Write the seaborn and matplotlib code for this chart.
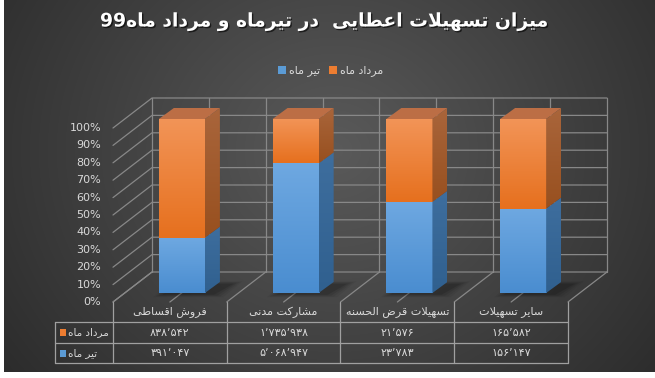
import re
import numpy as np
import pandas as pd
import matplotlib.pyplot as plt
import matplotlib.patheffects as pe
import seaborn as sns
from matplotlib.patches import Polygon, Rectangle, Patch
from matplotlib.colors import LinearSegmentedColormap

# ---- data ----
title = "میزان تسهیلات اعطایی  در تیرماه و مرداد ماه99"
categories = ["فروش اقساطی", "مشارکت مدنی", "تسهیلات قرض الحسنه", "سایر تسهیلات"]
series_names = ["تیر ماه", "مرداد ماه"]
tir = [391047, 5068947, 23783, 156147]
mordad = [838542, 1735938, 21576, 165582]
y_ticks = [0, 10, 20, 30, 40, 50, 60, 70, 80, 90, 100]

# ---- colours ----
blue = "#5B9BD5"
orange = "#ED7D31"
txt_col = "#d9d9d9"
grid_col = "#888888"
table_col = "#a0a0a0"

# ---- persian shaping (matplotlib has no complex text layout) ----
FORMS = {
    'ا': ('\ufe8d', '\ufe8e', None, None),
    'د': ('\ufea9', '\ufeaa', None, None),
    'ر': ('\ufead', '\ufeae', None, None),
    'ز': ('\ufeaf', '\ufeb0', None, None),
    'و': ('\ufeed', '\ufeee', None, None),
    'ت': ('\ufe95', '\ufe96', '\ufe97', '\ufe98'),
    'ح': ('\ufea1', '\ufea2', '\ufea3', '\ufea4'),
    'س': ('\ufeb1', '\ufeb2', '\ufeb3', '\ufeb4'),
    'ش': ('\ufeb5', '\ufeb6', '\ufeb7', '\ufeb8'),
    'ض': ('\ufebd', '\ufebe', '\ufebf', '\ufec0'),
    'ط': ('\ufec1', '\ufec2', '\ufec3', '\ufec4'),
    'ع': ('\ufec9', '\ufeca', '\ufecb', '\ufecc'),
    'ف': ('\ufed1', '\ufed2', '\ufed3', '\ufed4'),
    'ق': ('\ufed5', '\ufed6', '\ufed7', '\ufed8'),
    'ل': ('\ufedd', '\ufede', '\ufedf', '\ufee0'),
    'م': ('\ufee1', '\ufee2', '\ufee3', '\ufee4'),
    'ن': ('\ufee5', '\ufee6', '\ufee7', '\ufee8'),
    'ه': ('\ufee9', '\ufeea', '\ufeeb', '\ufeec'),
    'ک': ('\ufb8e', '\ufb8f', '\ufb90', '\ufb91'),
    'ی': ('\ufbfc', '\ufbfd', '\ufbfe', '\ufbff'),
}


def dual(c):
    return c in FORMS and FORMS[c][2] is not None


def rtl(text):
    out = []
    i = 0
    n = len(text)
    while i < n:
        c = text[i]
        if c not in FORMS:
            out.append(c)
            i += 1
            continue
        joins_prev = i > 0 and dual(text[i - 1])
        if c == 'ل' and i + 1 < n and text[i + 1] == 'ا':
            out.append('\ufefc' if joins_prev else '\ufefb')
            i += 2
            continue
        joins_next = dual(c) and i + 1 < n and text[i + 1] in FORMS
        iso, fin, ini, med = FORMS[c]
        if joins_prev and joins_next:
            out.append(med)
        elif joins_prev:
            out.append(fin)
        elif joins_next:
            out.append(ini)
        else:
            out.append(iso)
        i += 1
    vis = ''.join(reversed(out))
    return re.sub(r'[0-9]+', lambda m: m.group(0)[::-1], vis)


def fa_num(v):
    s = f"{v:,}".replace(',', '\u066c')
    return s.translate(str.maketrans('0123456789', '۰۱۲۳۴۵۶۷۸۹'))


# ---- layout of the pseudo 3d box (pixel -> data) ----
X0, PX_CAT, Y0, PX_PCT = 125, 113.75, 293, 1.74


def px(p):
    return -0.5 + (p - X0) / PX_CAT


def py(p):
    return (Y0 - p) / PX_PCT


fx, fy = -12 / PX_CAT, -9 / PX_PCT      # front plane offset
bx, by = 27 / PX_CAT, 21 / PX_PCT       # back wall offset
ddx, ddy = 15 / PX_CAT, 11 / PX_PCT     # bar depth

sns.set_theme(style="white")
plt.rcParams['font.family'] = ['DejaVu Sans']

fig = plt.figure(figsize=(6.55, 3.78), dpi=100, facecolor="white")

# background radial gradient
bg = fig.add_axes([0, 0, 1, 1])
bg.axis("off")
yy, xx = np.mgrid[0:372, 0:651]
r = np.sqrt((xx - 330) ** 2 + ((yy - 150) / 0.9) ** 2) / 430
r = np.clip(r, 0, 1)
c_in = np.array([90, 90, 90]) / 255
c_out = np.array([42, 42, 42]) / 255
img = c_in[None, None, :] * (1 - r[..., None]) + c_out[None, None, :] * r[..., None]
bg.imshow(img, extent=(4, 655, 372, 0), aspect="auto", interpolation="bilinear")
bg.set_xlim(0, 655)
bg.set_ylim(378, 0)

ax = fig.add_axes([0, 0, 1, 1])
ax.patch.set_alpha(0)

# ---- data frame and seaborn bars (front faces) ----
tot = np.array(tir) + np.array(mordad)
df = pd.DataFrame({
    "cat": categories,
    "tir_pct": np.array(tir) / tot * 100,
    "total": np.full(len(categories), 100.0),
})

sns.barplot(data=df, x="cat", y="total", order=categories, color=orange,
            width=0.405, saturation=1, errorbar=None, ax=ax)
sns.barplot(data=df, x="cat", y="tir_pct", order=categories, color=blue,
            width=0.405, saturation=1, errorbar=None, ax=ax)
ax.set_autoscale_on(False)

bars = list(ax.patches)
orange_bars, blue_bars = bars[:4], bars[4:8]


def grad_fill(clip, top, bottom, extent, z):
    cmap = LinearSegmentedColormap.from_list("g", [bottom, top])
    grad = np.linspace(0, 1, 64).reshape(-1, 1)
    im = ax.imshow(grad, cmap=cmap, extent=extent, origin="lower",
                   aspect="auto", interpolation="bilinear", zorder=z)
    im.set_clip_path(clip)


# walls and floor
for t in y_ticks:
    ax.plot([-0.5 + fx, -0.5 + bx, 3.5 + bx], [t + fy, t + by, t + by],
            color=grid_col, lw=0.9, zorder=1)
for k in range(9):
    xb = -0.5 + k * 0.5
    ax.plot([xb + bx, xb + bx], [by, 100 + by], color=grid_col, lw=0.9, zorder=1)
    ax.plot([xb + fx, xb + bx], [fy, by], color=grid_col, lw=0.9, zorder=1)

for i, (ob, bb) in enumerate(zip(orange_bars, blue_bars)):
    x0 = ob.get_x()
    x1 = x0 + ob.get_width()
    b = bb.get_height()
    z = 4 + i * 0.1

    # soft shadow on floor
    for s, a in [(0.08, 0.05), (0.055, 0.07), (0.03, 0.09), (0.0, 0.12)]:
        sh = Polygon([(x0 + 0.03 - s, -1.0 - s * 18), (x1 + 0.08 + s, -1.0 - s * 18),
                      (x1 + ddx + 0.12 + s, ddy - 1 + s * 18), (x0 + ddx + 0.05 - s, ddy - 1 + s * 18)],
                     closed=True, facecolor="black", edgecolor="none", alpha=a, zorder=2)
        ax.add_patch(sh)

    for patch in (ob, bb):
        patch.set_facecolor("none")
        patch.set_edgecolor("none")
    ob.set_zorder(z)
    bb.set_zorder(z + 0.01)

    # front faces
    grad_fill(bb, "#6EA8E1", "#4A8DD0", (x0, x1, 0, b), z + 0.01)
    grad_fill(ob, "#F29457", "#E6701E", (x0, x1, b, 100), z)

    # side faces
    for (y0, y1, ct, cb) in [(0, b, "#3E6E9E", "#30608F"), (b, 100, "#A9653B", "#98501F")]:
        side = Polygon([(x1, y0), (x1 + ddx, y0 + ddy), (x1 + ddx, y1 + ddy), (x1, y1)],
                       closed=True, facecolor="none", edgecolor="none", zorder=z)
        ax.add_patch(side)
        grad_fill(side, ct, cb, (x1, x1 + ddx, y0, y1 + ddy), z + 0.02)

    # top face
    ax.add_patch(Polygon([(x0, 100), (x1, 100), (x1 + ddx, 100 + ddy), (x0 + ddx, 100 + ddy)],
                         closed=True, facecolor="#BC6E45", edgecolor="none", zorder=z + 0.03))

# y tick labels
for t in y_ticks:
    ax.text(px(101), t + fy, f"{t}%", ha="right", va="center", color=txt_col, fontsize=8)

# data table
col_edges = [k - 0.5 + fx for k in range(5)]
for xe in col_edges:
    ax.plot([xe, xe], [fy, py(363)], color=table_col, lw=0.9, zorder=6)
ax.plot([px(55), px(55)], [py(322), py(363)], color=table_col, lw=0.9, zorder=6)
for yl in (322, 343, 363):
    ax.plot([px(55), col_edges[-1]], [py(yl), py(yl)], color=table_col, lw=0.9, zorder=6)

for k, cat in enumerate(categories):
    xc = k + fx
    ax.text(xc, py(312), rtl(cat), ha="center", va="center", color=txt_col, fontsize=8)
    ax.text(xc, py(332.5), fa_num(mordad[k]), ha="center", va="center", color=txt_col, fontsize=8)
    ax.text(xc, py(353.5), fa_num(tir[k]), ha="center", va="center", color=txt_col, fontsize=8)

for name, col, yc in [(series_names[1], orange, 332.5), (series_names[0], blue, 353.5)]:
    ax.add_patch(Rectangle((px(60), py(yc + 3.5)), 6.5 / PX_CAT, 7 / PX_PCT,
                           facecolor=col, edgecolor="none", zorder=6))
    ax.text(px(68), py(yc), rtl(name), ha="left", va="center", color=txt_col, fontsize=7.5)

ax.set_xlim(px(0), px(655))
ax.set_ylim(py(378), py(0))
ax.axis("off")

# legend
handles = [Patch(facecolor=blue, edgecolor="none"), Patch(facecolor=orange, edgecolor="none")]
leg = fig.legend(handles, [rtl(series_names[0]), rtl(series_names[1])], loc="center",
                 bbox_to_anchor=(331 / 655, 1 - 71 / 378), ncol=2, frameon=False,
                 handlelength=0.7, handleheight=0.7, handletextpad=0.3, columnspacing=0.8,
                 fontsize=8)
for t in leg.get_texts():
    t.set_color(txt_col)

# title
fig.text(325 / 655, 1 - 22 / 378, rtl(title), ha="center", va="center", color="white",
         fontsize=13.5, fontweight="bold",
         path_effects=[pe.withSimplePatchShadow(offset=(1, -1), shadow_rgbFace="black", alpha=0.6)])

fig.savefig("out.png", dpi=100)
